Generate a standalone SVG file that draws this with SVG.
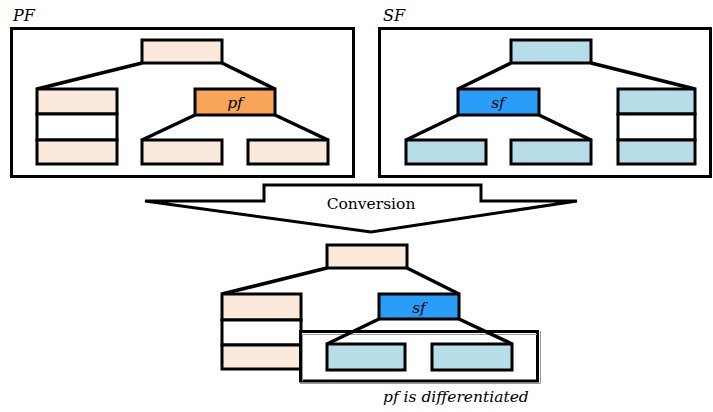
<svg xmlns="http://www.w3.org/2000/svg" width="713" height="412" viewBox="0 0 713 412">
<style>
.frame{fill:none;stroke:#000;stroke-width:3}
.pe{fill:#FBE9DC;stroke:#000;stroke-width:3}
.lb{fill:#B7DEE8;stroke:#000;stroke-width:3}
.or{fill:#F8A55A;stroke:#000;stroke-width:3}
.bl{fill:#2A9DF8;stroke:#000;stroke-width:3}
.wh{fill:#fff;stroke:#000;stroke-width:3}
.ln{stroke:#000;stroke-width:3.5;fill:none}
</style>
<rect width="713" height="412" fill="#fff"/>
<g id="connectors">
<line class="ln" x1="142" y1="63" x2="37" y2="89"/>
<line class="ln" x1="222" y1="63" x2="275" y2="89"/>
<line class="ln" x1="195" y1="115" x2="142" y2="140"/>
<line class="ln" x1="275" y1="115" x2="328" y2="140"/>
<line class="ln" x1="511" y1="63" x2="458" y2="89"/>
<line class="ln" x1="591" y1="63" x2="695" y2="89"/>
<line class="ln" x1="458" y1="115" x2="406" y2="140"/>
<line class="ln" x1="539" y1="115" x2="591" y2="140"/>
<line class="ln" x1="327" y1="268" x2="222" y2="294"/>
<line class="ln" x1="407" y1="268" x2="459" y2="294"/>
</g>
<g font-family="'DejaVu Serif', 'Liberation Serif', serif" font-style="italic" font-size="15.5">
<g id="pf-frame">
<rect class="frame" x="11.5" y="28.5" width="342" height="148"/>
<text x="13" y="21" font-size="16">PF</text>
</g>
<g id="pf-root"><rect class="pe" x="142" y="40" width="80" height="23"/></g>
<g id="pf-stack">
<rect class="pe" x="37" y="89" width="80" height="25"/>
<rect class="wh" x="37" y="114" width="80" height="26"/>
<rect class="pe" x="37" y="140" width="80" height="24"/>
</g>
<g id="pf-node"><rect class="or" x="195" y="89" width="80" height="26"/><text x="235" y="108" text-anchor="middle">pf</text></g>
<g id="pf-child1"><rect class="pe" x="142" y="140" width="80" height="24"/></g>
<g id="pf-child2"><rect class="pe" x="248" y="140" width="80" height="24"/></g>
<g id="sf-frame">
<rect class="frame" x="379.5" y="28.5" width="331" height="148"/>
<text x="383" y="21" font-size="16">SF</text>
</g>
<g id="sf-root"><rect class="lb" x="511" y="40" width="80" height="23"/></g>
<g id="sf-node"><rect class="bl" x="458" y="89" width="81" height="26"/><text x="498" y="108" text-anchor="middle">sf</text></g>
<g id="sf-stack">
<rect class="lb" x="618" y="89" width="77" height="25"/>
<rect class="wh" x="618" y="114" width="77" height="26"/>
<rect class="lb" x="618" y="140" width="77" height="24"/>
</g>
<g id="sf-child1"><rect class="lb" x="406" y="140" width="80" height="24"/></g>
<g id="sf-child2"><rect class="lb" x="511" y="140" width="80" height="24"/></g>
<g id="conversion">
<polygon points="145,201 264,201 264,185 481,185 481,201 577,201 371,232" fill="#fff" stroke="#000" stroke-width="3" stroke-linejoin="miter"/>
<text x="371" y="209" text-anchor="middle" font-style="normal">Conversion</text>
</g>
<g id="res-root"><rect class="pe" x="327" y="245" width="80" height="23"/></g>
<g id="res-stack">
<rect class="pe" x="222" y="294" width="79" height="26"/>
<rect class="wh" x="222" y="320" width="79" height="25"/>
<rect class="pe" x="222" y="345" width="79" height="24"/>
</g>
<g id="res-frame">
<rect x="300.5" y="331.5" width="237" height="49.5" fill="#fff" stroke="#000" stroke-width="3"/>
<polyline points="302.5,381 302.5,334.5 537,334.5" fill="none" stroke="#999" stroke-width="1"/>
<polyline points="540.5,331 540.5,383.5 300,383.5" fill="none" stroke="#999" stroke-width="1"/>
</g>
<g id="res-connectors-inner">
<line class="ln" x1="379" y1="319" x2="327" y2="344"/>
<line class="ln" x1="459" y1="319" x2="512" y2="344"/>
</g>
<g id="res-node"><rect class="bl" x="379" y="294" width="80" height="25"/><text x="419" y="313" text-anchor="middle">sf</text></g>
<g id="res-child1"><rect class="lb" x="327" y="344" width="78" height="26"/></g>
<g id="res-child2"><rect class="lb" x="432" y="344" width="80" height="26"/></g>
<g id="label"><text x="383" y="402">pf is differentiated</text></g>
</g>
</svg>
